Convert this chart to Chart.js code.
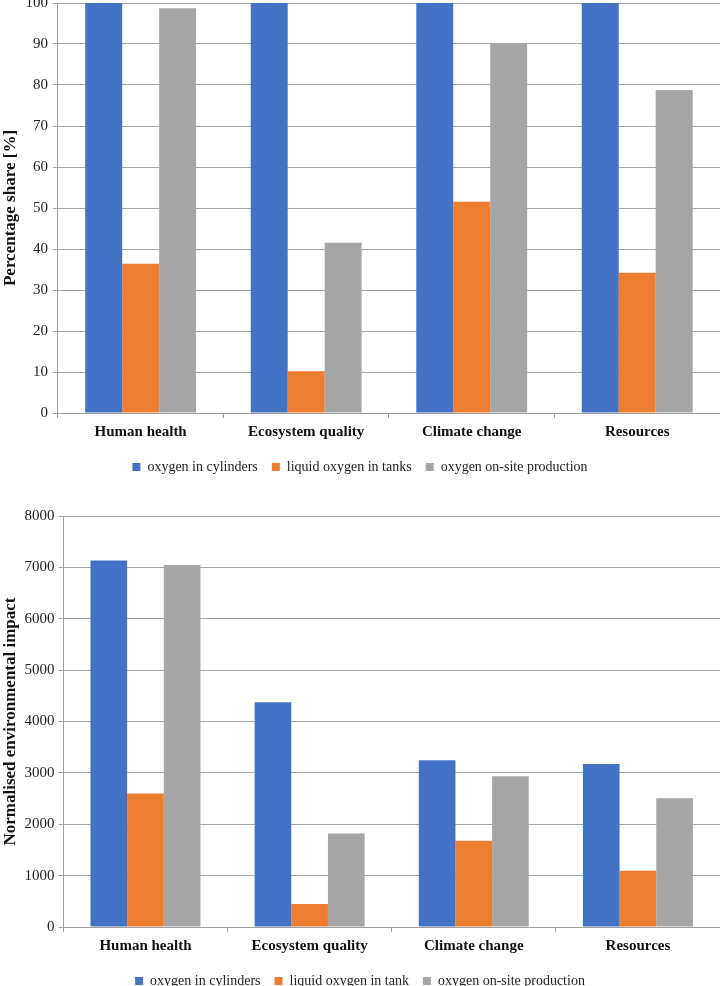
<!DOCTYPE html>
<html>
<head>
<meta charset="utf-8">
<script src="https://cdn.jsdelivr.net/npm/chart.js@4/dist/chart.umd.min.js"></script>
<style>
  body { margin: 0; background: #fff; width: 720px; height: 986px; overflow: hidden; position: relative; }
  .box { position: absolute; }
  #top { top: -11px; left: 0; width: 720px; height: 495px; }
  #bottom { top: 503px; left: 0; width: 720px; height: 495px; }
</style>
</head>
<body>
<div class="box" id="top"><canvas id="shareChart"></canvas></div>
<div class="box" id="bottom"><canvas id="impactChart"></canvas></div>
<script>
// Labels
let categories = ['Human health', 'Ecosystem quality', 'Climate change', 'Resources'];

// Percentage share [%]
let shareCylinders = [100, 100, 100, 100];
let shareTanks     = [36.4, 10.2, 51.5, 34.2];
let shareOnSite    = [98.7, 41.5, 90.1, 78.8];

// Normalised environmental impact
let impactCylinders = [7135, 4375, 3245, 3175];
let impactTank      = [2600,  450, 1680, 1095];
let impactOnSite    = [7045, 1820, 2935, 2505];

let blue = '#4472c4';
let orange = '#ed7d31';
let gray = '#a5a5a5';
let serif = '"Liberation Serif", "Times New Roman", serif';

function makeChart(id, names, series, yMax, yStep, yTitle, tickPad) {
    let colors = [blue, orange, gray];
    return new Chart(document.getElementById(id).getContext('2d'), {
        type: 'bar',
        data: {
            labels: categories,
            datasets: series.map((s, i) => ({
                label: names[i],
                data: s,
                backgroundColor: colors[i],
                borderWidth: 0
            }))
        },
        options: {
            responsive: true,
            maintainAspectRatio: false,
            animation: false,
            datasets: { bar: { categoryPercentage: 0.67, barPercentage: 1 } },
            layout: { padding: 0 },
            plugins: {
                tooltip: { enabled: false },
                legend: {
                    position: 'bottom',
                    labels: {
                        font: { family: serif, size: 14 },
                        color: '#222',
                        boxWidth: 8,
                        boxHeight: 8,
                        padding: 14
                    }
                }
            },
            scales: {
                x: {
                    grid: { offset: true, drawOnChartArea: false, color: '#a0a0a0', tickLength: 5 },
                    border: { color: '#a0a0a0' },
                    ticks: { font: { family: serif, size: 15, weight: 'bold' }, color: '#111', padding: 5 }
                },
                y: {
                    min: 0,
                    max: yMax,
                    grid: { color: '#a6a6a6', tickLength: 5 },
                    border: { color: '#a0a0a0' },
                    ticks: {
                        stepSize: yStep,
                        font: { family: serif, size: 15 },
                        color: '#222',
                        padding: tickPad,
                        callback: v => String(v)
                    },
                    title: {
                        display: true,
                        text: yTitle,
                        font: { family: serif, size: 17, weight: 'bold' },
                        color: '#111',
                        padding: 0
                    }
                }
            }
        }
    });
}

makeChart('shareChart',
    ['oxygen in cylinders', 'liquid oxygen in tanks', 'oxygen on-site production'],
    [shareCylinders, shareTanks, shareOnSite], 100, 10, 'Percentage share [%]', 5);

makeChart('impactChart',
    ['oxygen in cylinders', 'liquid oxygen in tank', 'oxygen on-site production'],
    [impactCylinders, impactTank, impactOnSite], 8000, 1000, 'Normalised environmental impact', 4);
</script>
</body>
</html>
